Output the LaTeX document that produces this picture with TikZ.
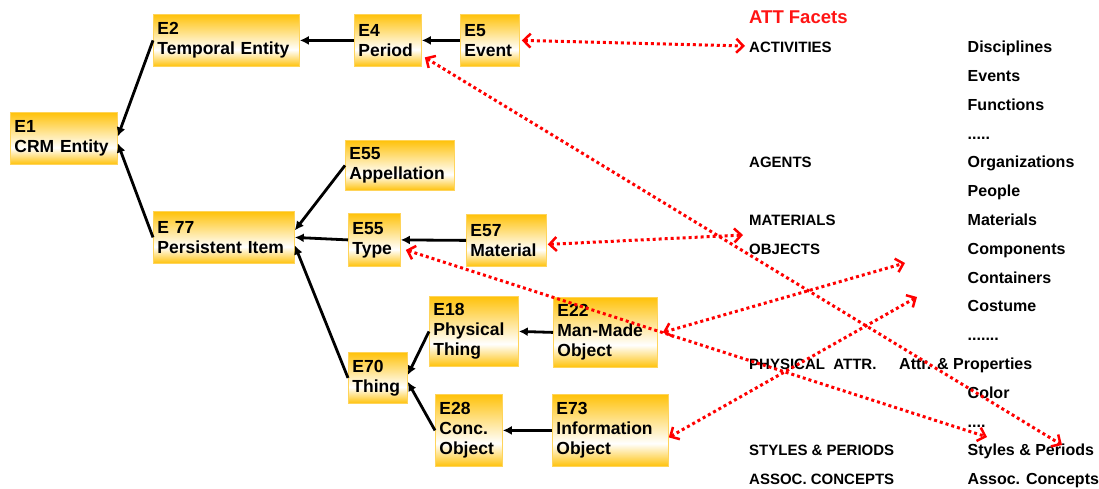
\documentclass[tikz,border=0pt]{standalone}
\usepackage{fontspec}
\setmainfont{Liberation Sans}
\usetikzlibrary{arrows.meta,calc}
\definecolor{gold}{RGB}{255,194,10}
\definecolor{goldline}{RGB}{255,212,90}
\definecolor{attred}{RGB}{255,20,20}
\pgfdeclareverticalshading{boxshade}{100bp}{color(0bp)=(gold); color(25bp)=(gold); color(41bp)=(white); color(75bp)=(gold); color(100bp)=(gold)}
\tikzset{
  ent/.style={draw=goldline, line width=0.8pt, shading=boxshade, align=left,
    font=\bfseries\fontsize{17.5}{20}\selectfont, inner xsep=4pt, inner ysep=0pt,
    anchor=north west},
  con/.style={draw=black, line width=2.8pt, -{Latex[length=9pt,width=9pt]}},
  refarrow/.style={draw=red, line width=3pt, dash pattern=on 3pt off 3pt,
    arrows={Straight Barb[length=7pt,width=14pt,line width=2.5pt]-Straight Barb[length=7pt,width=14pt,line width=2.5pt]}},
  facet/.style={anchor=base west, inner sep=0pt, font=\bfseries\fontsize{15}{18}\selectfont},
  term/.style={anchor=base west, inner sep=0pt, font=\bfseries\fontsize{16}{19}\selectfont},
}
\begin{document}
\begin{tikzpicture}[x=1pt,y=-1pt]
\useasboundingbox (0,0) rectangle (1099,489);
% entity boxes
\node[ent, minimum height=52pt, text width=99pt] (e1) at (10,112) {E1\\CRM Entity};
\node[ent, minimum height=52pt, text width=138pt] (e2) at (153,14) {E2\\Temporal Entity};
\node[ent, minimum height=52pt, text width=59pt] (e4) at (354,14) {E4\\Period};
\node[ent, minimum height=52pt, text width=51pt] (e5) at (460,14) {E5\\Event};
\node[ent, minimum height=50pt, text width=101pt] (app) at (345,140) {E55\\Appellation};
\node[ent, minimum height=52pt, text width=133pt] (e77) at (153,211) {E 77\\Persistent Item};
\node[ent, minimum height=53pt, text width=44pt] (type) at (348,213) {E55\\Type};
\node[ent, minimum height=52pt, text width=72pt] (e57) at (466,214) {E57\\Material};
\node[ent, minimum height=70pt, text width=81pt] (e18) at (429,296) {E18\\Physical\\Thing};
\node[ent, minimum height=70pt, text width=96pt] (e22) at (553,297) {E22\\Man-Made\\Object};
\node[ent, minimum height=51pt, text width=51pt] (e70) at (348,352) {E70\\Thing};
\node[ent, minimum height=72pt, text width=59pt] (e28) at (435,394) {E28\\Conc.\\Object};
\node[ent, minimum height=72pt, text width=108pt] (e73) at (552,394) {E73\\Information\\Object};
% hierarchy connectors
\draw[con] (e2.west) -- ([yshift=2pt]e1.east);
\draw[con] (e77.west) -- ([yshift=-5pt]e1.east);
\draw[con] (e4.west) -- (e2.east);
\draw[con] (e5.west) -- (e4.east);
\draw[con] (app.west) -- ([yshift=7pt]e77.east);
\draw[con] (type.west) -- (e77.east);
\draw[con] (e70.west) -- ([yshift=-8pt]e77.east);
\draw[con] (e57.west) -- (type.east);
\draw[con] (e18.west) -- ([yshift=3pt]e70.east);
\draw[con] (e28.west) -- ([yshift=-4pt]e70.east);
\draw[con] (e22.west) -- (e18.east);
\draw[con] (e73.west) -- (e28.east);
% ATT facets text
\node[anchor=base west, inner sep=0pt, text=attred, font=\bfseries\fontsize{18.5}{22}\selectfont] (att) at (749,24) {ATT Facets};
\node[facet] (activities) at (749,52.7) {ACTIVITIES};
\node[facet] (agents) at (749,167.9) {AGENTS};
\node[facet] (materials) at (749,225.5) {MATERIALS};
\node[facet] (objects) at (749,254.3) {OBJECTS};
\node[facet] (physattr) at (749,369.5) {PHYSICAL~~ATTR.};
\node[facet] (styles) at (749,455.9) {STYLES \& PERIODS};
\node[facet] (assoc) at (749,484.7) {ASSOC. CONCEPTS};
\node[term] (t0) at (967.5,52.7) {Disciplines};
\node[term] (t1) at (967.5,81.5) {Events};
\node[term] (t2) at (967.5,110.3) {Functions};
\node[term] (t3) at (967.5,139.1) {.....};
\node[term] (t4) at (967.5,167.9) {Organizations};
\node[term] (t5) at (967.5,196.7) {People};
\node[term] (t6) at (967.5,225.5) {Materials};
\node[term] (t7) at (967.5,254.3) {Components};
\node[term] (t8) at (967.5,283.1) {Containers};
\node[term] (t9) at (967.5,311.9) {Costume};
\node[term] (t10) at (967.5,340.7) {.......};
\node[term] (t11) at (899,369.5) {Attr. \& Properties};
\node[term] (t12) at (967.5,398.3) {Color};
\node[term] (t13) at (967.5,427.1) {....};
\node[term] (t14) at (967.5,455.9) {Styles \& Periods};
\node[term] (t15) at (967.5,484.7) {Assoc. Concepts};
% free ends of the mapping arrows
\coordinate (activx) at (745,46);
\coordinate (stylex) at (1062,445);
\coordinate (matx) at (743,235);
\coordinate (colorx) at (987,437);
\coordinate (compx) at (905,263);
\coordinate (contx) at (917,297);
% mapping arrows
\draw[refarrow] ([xshift=2pt]e5.east) -- (activx);
\draw[refarrow] ([shift={(3pt,-17pt)}]e4.east) -- (stylex);
\draw[refarrow] ([shift={(1pt,-4pt)}]e57.east) -- (matx);
\draw[refarrow] ([shift={(5pt,-10pt)}]type.east) -- (colorx);
\draw[refarrow] ([xshift=5pt]e22.east) -- (compx);
\draw[refarrow] ([yshift=-7pt]e73.east) -- (contx);
\end{tikzpicture}
\end{document}
